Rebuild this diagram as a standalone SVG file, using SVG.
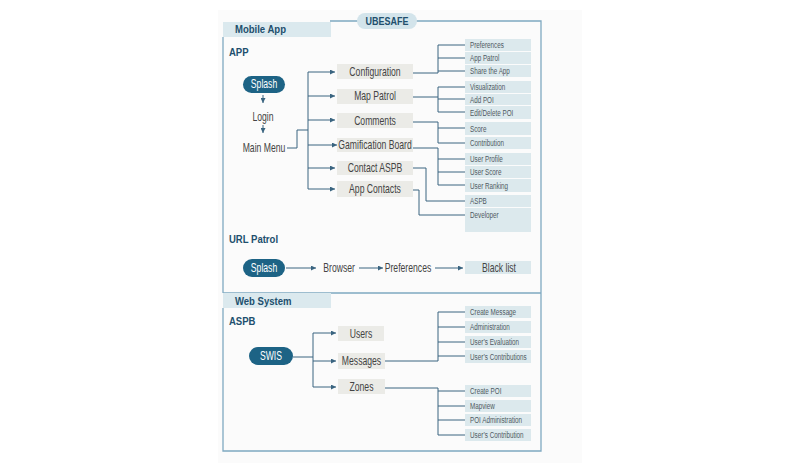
<svg xmlns="http://www.w3.org/2000/svg" width="800" height="463" viewBox="0 0 800 463">
<defs>
<style>
.bg{fill:#fbfbfb}
.frame{fill:none;stroke:#7fa9c1;stroke-width:1.3}
.hdr{fill:#dbe9ee}
.hdrt{font:bold 11.5px "Liberation Sans",Arial,sans-serif;fill:#214f6d}
.pill{fill:#1d6385}
.pillt{font:12px "Liberation Sans",Arial,sans-serif;fill:#ffffff;text-anchor:middle}
.box{fill:#ebebe7}
.boxt{font:12px "Liberation Sans",Arial,sans-serif;fill:#444444;text-anchor:middle}
.lbl{font:12px "Liberation Sans",Arial,sans-serif;fill:#444444;text-anchor:middle}
.leaf{fill:#dce9ed}
.leaft{font:9px "Liberation Sans",Arial,sans-serif;fill:#4f5a62}
.conn{fill:none;stroke:#3a6480;stroke-width:1}
.arr{marker-end:url(#ah)}
.cc{transform-box:fill-box;transform-origin:50% 50%;transform:scaleX(0.72)}
.cl{transform-box:fill-box;transform-origin:0% 50%;transform:scaleX(0.7)}
.bl{transform-box:fill-box;transform-origin:0% 50%;transform:scaleX(0.83)}
.bc{transform-box:fill-box;transform-origin:50% 50%;transform:scaleX(0.78)}
</style>
<marker id="ah" viewBox="0 0 6 6" refX="6" refY="3" markerWidth="5" markerHeight="5" markerUnits="userSpaceOnUse" orient="auto">
<path d="M0,0 L6,3 L0,6 z" fill="#3a6480"/>
</marker>
</defs>
<rect class="bg" x="218" y="10" width="364" height="453"/>

<g id="frame">
<path class="frame" d="M330,21 H541 V451 H223 V308 M223,293 H541 M223,37 V293"/>
</g>

<g id="title">
<rect x="357" y="13" width="60" height="16" rx="8" fill="#d3e4eb"/>
<text class="hdrt bc" x="387" y="25.5" text-anchor="middle">UBESAFE</text>
</g>
<g id="mobile-header">
<rect class="hdr" x="223" y="22" width="108" height="15"/>
<text class="hdrt bl" x="235" y="33.5">Mobile App</text>
</g>
<g id="web-header">
<rect class="hdr" x="223" y="293" width="108" height="15"/>
<text class="hdrt bl" x="235" y="305">Web System</text>
</g>
<g id="section-labels">
<text class="hdrt bl" x="229" y="56">APP</text>
<text class="hdrt bl" x="229" y="243">URL Patrol</text>
<text class="hdrt bl" x="229" y="325">ASPB</text>
</g>

<g id="connectors">
<path class="conn arr" d="M263,95 V103"/>
<path class="conn arr" d="M263,125 V133"/>
<path class="conn" d="M287,148 H297 V130 H308 M308,72 V189"/>
<path class="conn arr" d="M308,72 H335"/>
<path class="conn arr" d="M308,96 H335"/>
<path class="conn arr" d="M308,120 H335"/>
<path class="conn arr" d="M308,145 H337"/>
<path class="conn arr" d="M308,168 H335"/>
<path class="conn arr" d="M308,189 H335"/>
<path class="conn" d="M413,73 H438 V45 H465 M438,58 H465 M438,71 H465"/>
<path class="conn" d="M413,97 H438 M438,87 V112 M438,87 H465 M438,99 H465 M438,112 H465"/>
<path class="conn" d="M413,122 H438 V143 H465 M438,128 H465"/>
<path class="conn" d="M413,148 H438 V185 H465 M438,159 H465 M438,172 H465"/>
<path class="conn" d="M413,168 H426 V201 H465"/>
<path class="conn" d="M413,190 H419 V215 H465"/>
<path class="conn arr" d="M286,268 H316"/>
<path class="conn arr" d="M359,268 H383"/>
<path class="conn arr" d="M435,268 H463"/>
<path class="conn" d="M293,357 H313 M313,333 V387"/>
<path class="conn arr" d="M313,333 H336"/>
<path class="conn arr" d="M313,361 H336"/>
<path class="conn arr" d="M313,387 H336"/>
<path class="conn" d="M385,361 H438 V312 H465 M438,327 H465 M438,342 H465 M438,356 H465"/>
<path class="conn" d="M385,388 H438 V435 H465 M438,391 H465 M438,406 H465 M438,420 H465"/>
</g>

<g id="splash-app">
<rect class="pill" x="243" y="76" width="42" height="17" rx="8.5"/>
<text class="pillt cc" x="264" y="88.5">Splash</text>
</g>
<g id="login"><text class="lbl cc" x="263" y="121.5">Login</text></g>
<g id="main-menu"><text class="lbl cc" x="264" y="152">Main Menu</text></g>

<g id="configuration"><rect class="box" x="337" y="64" width="76" height="15"/><text class="boxt cc" x="375" y="76">Configuration</text></g>
<g id="map-patrol"><rect class="box" x="337" y="89" width="76" height="15"/><text class="boxt cc" x="375" y="100.5">Map Patrol</text></g>
<g id="comments"><rect class="box" x="337" y="113" width="76" height="15"/><text class="boxt cc" x="375" y="125">Comments</text></g>
<g id="gamification"><rect class="box" x="337" y="138" width="76" height="14"/><text class="boxt cc" x="375" y="149.5">Gamification Board</text></g>
<g id="contact-aspb"><rect class="box" x="337" y="161" width="76" height="14"/><text class="boxt cc" x="375" y="172.5">Contact ASPB</text></g>
<g id="app-contacts"><rect class="box" x="337" y="181" width="76" height="16"/><text class="boxt cc" x="375" y="193.5">App Contacts</text></g>

<g id="leaf-preferences"><rect class="leaf" x="465" y="39" width="66" height="12"/><text class="leaft cl" x="470" y="48.5">Preferences</text></g>
<g id="leaf-app-patrol"><rect class="leaf" x="465" y="52" width="66" height="12"/><text class="leaft cl" x="470" y="61.5">App Patrol</text></g>
<g id="leaf-share"><rect class="leaf" x="465" y="65" width="66" height="12"/><text class="leaft cl" x="470" y="74.5">Share the App</text></g>
<g id="leaf-visualization"><rect class="leaf" x="465" y="81" width="66" height="12"/><text class="leaft cl" x="470" y="90.5">Visualization</text></g>
<g id="leaf-add-poi"><rect class="leaf" x="465" y="94" width="66" height="11"/><text class="leaft cl" x="470" y="103">Add POI</text></g>
<g id="leaf-edit-poi"><rect class="leaf" x="465" y="106" width="66" height="13"/><text class="leaft cl" x="470" y="116">Edit/Delete POI</text></g>
<g id="leaf-score"><rect class="leaf" x="465" y="122" width="66" height="13"/><text class="leaft cl" x="470" y="132">Score</text></g>
<g id="leaf-contribution"><rect class="leaf" x="465" y="137" width="66" height="12"/><text class="leaft cl" x="470" y="146.5">Contribution</text></g>
<g id="leaf-user-profile"><rect class="leaf" x="465" y="153" width="66" height="12"/><text class="leaft cl" x="470" y="162.5">User Profile</text></g>
<g id="leaf-user-score"><rect class="leaf" x="465" y="166" width="66" height="12"/><text class="leaft cl" x="470" y="175.5">User Score</text></g>
<g id="leaf-user-ranking"><rect class="leaf" x="465" y="179" width="66" height="13"/><text class="leaft cl" x="470" y="189">User Ranking</text></g>
<g id="leaf-aspb"><rect class="leaf" x="465" y="195" width="66" height="12"/><text class="leaft cl" x="470" y="204.5">ASPB</text></g>
<g id="leaf-developer"><rect class="leaf" x="465" y="208" width="66" height="24"/><text class="leaft cl" x="470" y="218.5">Developer</text></g>

<g id="splash-url">
<rect class="pill" x="243" y="259" width="42" height="18" rx="9"/>
<text class="pillt cc" x="264" y="272.5">Splash</text>
</g>
<g id="browser"><text class="lbl cc" x="339" y="272.5">Browser</text></g>
<g id="preferences-url"><text class="lbl cc" x="408" y="272.5">Preferences</text></g>
<g id="black-list"><rect class="leaf" x="465" y="261" width="66" height="13"/><text class="boxt cc" x="499" y="272">Black list</text></g>

<g id="swis">
<rect class="pill" x="249" y="347" width="44" height="18" rx="9"/>
<text class="pillt cc" x="271" y="360.5">SWIS</text>
</g>
<g id="users"><rect class="box" x="338" y="326" width="46" height="15"/><text class="boxt cc" x="361" y="338">Users</text></g>
<g id="messages"><rect class="box" x="338" y="353" width="47" height="16"/><text class="boxt cc" x="361.5" y="365.5">Messages</text></g>
<g id="zones"><rect class="box" x="338" y="379" width="47" height="15"/><text class="boxt cc" x="361.5" y="391">Zones</text></g>

<g id="leaf-create-message"><rect class="leaf" x="465" y="306" width="66" height="12"/><text class="leaft cl" x="470" y="315.5">Create Message</text></g>
<g id="leaf-administration"><rect class="leaf" x="465" y="321" width="66" height="12"/><text class="leaft cl" x="470" y="330.5">Administration</text></g>
<g id="leaf-users-evaluation"><rect class="leaf" x="465" y="336" width="66" height="12"/><text class="leaft cl" x="470" y="345.5">User’s Evaluation</text></g>
<g id="leaf-users-contributions"><rect class="leaf" x="465" y="350" width="66" height="13"/><text class="leaft cl" x="470" y="360">User’s Contributions</text></g>
<g id="leaf-create-poi"><rect class="leaf" x="465" y="385" width="66" height="12"/><text class="leaft cl" x="470" y="394.5">Create POI</text></g>
<g id="leaf-mapview"><rect class="leaf" x="465" y="400" width="66" height="12"/><text class="leaft cl" x="470" y="409.5">Mapview</text></g>
<g id="leaf-poi-admin"><rect class="leaf" x="465" y="414" width="66" height="12"/><text class="leaft cl" x="470" y="423.5">POI Administration</text></g>
<g id="leaf-users-contribution"><rect class="leaf" x="465" y="429" width="66" height="12"/><text class="leaft cl" x="470" y="438.5">User’s Contribution</text></g>
</svg>
